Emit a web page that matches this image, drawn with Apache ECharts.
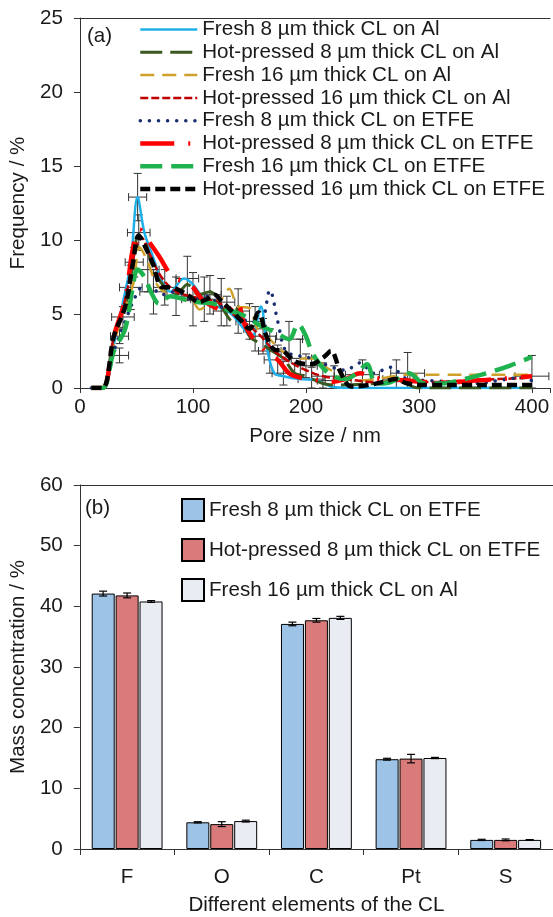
<!DOCTYPE html>
<html>
<head>
<meta charset="utf-8">
<title>CL pore size and composition</title>
<script src="https://cdn.jsdelivr.net/npm/echarts@6/dist/echarts.min.js"></script>
<style>
  html, body { margin: 0; padding: 0; background: #fff; }
  #main { width: 553px; height: 917px; }
</style>
</head>
<body>
<div id="main"></div>
<script>
// ---- (a) pore size distribution, [pore size nm, frequency %]
var namesA = [
  'Fresh 8 µm thick CL on Al',
  'Hot-pressed 8 µm thick CL on Al',
  'Fresh 16 µm thick CL on Al',
  'Hot-pressed 16 µm thick CL on Al',
  'Fresh 8 µm thick CL on ETFE',
  'Hot-pressed 8 µm thick CL on ETFE',
  'Fresh 16 µm thick CL on ETFE',
  'Hot-pressed 16 µm thick CL on ETFE'
];
var fresh8Al = [[10,0],[20,0],[30,3],[40,6.5],[45,8.5],[51,12.9],[57,10.5],[64,9],[72,7.3],[80,6.5],[92,7.4],[100,7],[110,6],[122,5.5],[134,5],[145,4],[152,3.4],[160,5.5],[166,2.5],[172,1.0],[180,0.8],[195,0.6],[210,0.5],[222,0.1],[240,0],[300,0],[350,0],[400,0]];
var hot8Al = [[10,0],[20,0],[30,3.5],[40,5.5],[46,8],[52,10.3],[58,9.8],[65,8],[75,6.8],[85,6.3],[95,7.0],[105,6.3],[115,6.5],[125,5.5],[135,4.5],[140,5.5],[150,3.5],[160,3.0],[170,2.5],[180,2],[190,1.0],[200,0.8],[215,0.3],[230,0.2],[260,0.3],[280,0.5],[300,0],[350,0],[400,0]];
var fresh16Al = [[10,0],[20,0],[30,3],[40,5.5],[47,7],[53,9.5],[60,8.5],[68,7],[78,6.3],[90,6],[100,5.8],[106,5.3],[115,5.8],[125,6],[132,6.7],[140,5.5],[150,5.4],[157,4],[165,3.5],[175,2.8],[190,2.0],[205,2.0],[220,1.3],[245,0.5],[270,0.7],[290,0.9],[320,0.9],[350,0.9],[380,0.9],[400,0.9]];
var hot16Al = [[10,0],[20,0],[30,3.5],[40,6],[48,9],[54,10.2],[62,9],[72,7.5],[85,6.5],[98,6.2],[110,6],[122,5.8],[135,5],[148,4.3],[160,3.5],[172,2.5],[185,1.8],[200,1.2],[215,0.8],[235,0.6],[260,0.4],[285,0.5],[310,0.4],[340,0.5],[370,0.6],[400,0.7]];
var fresh8Etfe = [[10,0],[20,0],[30,2.5],[40,4.5],[48,6],[55,6.8],[63,6.8],[72,6.3],[85,6.5],[100,6],[112,6.2],[125,5.5],[138,5],[150,4.5],[160,4.5],[168,6.6],[175,4.5],[182,2.5],[192,2.2],[205,2.0],[220,1.5],[235,1.2],[248,1.7],[260,1.0],[275,1.4],[290,0.6],[310,0.5],[330,0.4],[350,0.3],[370,0.5],[390,0.7],[400,0.5]];
var hot8Etfe = [[10,0],[20,0],[30,3.5],[40,6],[47,9.5],[53,10.7],[60,10],[70,8.9],[82,7.5],[92,7.2],[99,6.9],[108,6],[118,5.5],[130,5.2],[139,5.8],[145,4.4],[152,3.5],[160,2.8],[168,2.2],[175,1.9],[185,1.0],[195,0.7],[205,0.6],[220,0.4],[235,0.6],[248,1.0],[260,0.7],[275,0.6],[290,0.5],[310,0.4],[330,0.4],[350,0.5],[370,0.6],[385,0.7],[400,0.8]];
var fresh16Etfe = [[10,0],[20,0],[30,2.5],[40,4],[46,6.5],[51,8],[57,7.5],[64,6.3],[70,5.7],[80,6.2],[92,6],[105,5.8],[118,5.7],[130,5.3],[145,4.9],[160,4.2],[172,3.8],[185,3.3],[193,4.3],[200,3.5],[206,2.3],[220,1.0],[235,0.6],[245,1.0],[254,1.6],[262,0.3],[275,0.4],[291,1.0],[305,0.3],[320,0.3],[340,0.6],[360,1.0],[380,1.5],[400,2.1]];
var hot16Etfe = [[10,0],[20,0],[30,3.5],[40,5.5],[47,8.5],[52,10.3],[58,9.5],[64,8.5],[73,6.8],[80,6.8],[88,6.6],[97,6.2],[105,5.8],[112,6.0],[119,6.3],[126,5.8],[133,5.3],[142,4.6],[150,4.0],[158,5.1],[165,3.5],[172,2.6],[180,2.5],[190,1.8],[204,1.6],[216,2.1],[222,2.5],[231,1.0],[240,0.1],[255,0.2],[268,0.4],[279,0.6],[290,0.3],[310,0.2],[340,0.2],[370,0.2],[400,0.2]];
// error bars: [pore, freq, x error, y error]
var errA = [[35,3.5,8,0.5],[35,2.2,8,0.5],[38,4.8,10,0.7],[45,6.8,10,1.5],[51,12.9,8,1.6],[52,10.5,10,1.2],[48,8.5,8,1.0],[60,8.0,10,1.5],[65,6.5,12,1.5],[75,6.8,10,1.2],[85,6.2,10,1.3],[95,7.4,10,1.5],[100,6.0,10,1.8],[110,6.0,12,1.5],[115,6.3,10,1.3],[125,5.8,12,1.6],[130,5.2,12,1.0],[140,5.2,10,1.5],[150,4.5,12,1.2],[155,4.0,10,1.5],[162,3.5,12,1.2],[168,2.5,10,1.5],[175,1.9,12,1.0],[180,1.0,10,0.8],[185,3.3,12,1.2],[195,2.0,10,1.3],[200,1.5,10,0.8],[205,0.6,12,0.8],[215,0.8,10,0.9],[225,0.5,15,1.0],[250,0.9,15,1.0],[280,0.6,12,1.3],[290,1.0,15,1.4],[400,0.8,15,1.4]];

// ---- (b) mass concentration
var elements = ['F', 'O', 'C', 'Pt', 'S'];
var namesB = ['Fresh 8 µm thick CL on ETFE', 'Hot-pressed 8 µm thick CL on ETFE', 'Fresh 16 µm thick CL on Al'];
var fresh8EtfeMass = [42.1, 4.4, 37.1, 14.8, 1.5];
var hot8EtfeMass = [41.8, 4.1, 37.7, 14.9, 1.5];
var fresh16AlMass = [40.8, 4.6, 38.1, 15.0, 1.5];
var fresh8EtfeErr = [0.4, 0.1, 0.3, 0.15, 0.1];
var hot8EtfeErr = [0.4, 0.4, 0.3, 0.7, 0.15];
var fresh16AlErr = [0.15, 0.15, 0.25, 0.1, 0.05];

var FONT = 'Liberation Sans, Arial, sans-serif';
var FS = 20.6;
var chart = echarts.init(document.getElementById('main'));

var lineStyles = [
  { color: '#1fb0ea', width: 2.5, type: 'solid' },
  { color: '#3b5a1f', width: 3, type: [22, 8] },
  { color: '#cfa12a', width: 2.5, type: [14, 8] },
  { color: '#c00000', width: 2.5, type: [8, 3] },
  { color: '#1a2f72', width: 3.5, type: [0.1, 9], cap: 'round' },
  { color: '#ff0000', width: 4.5, type: [34, 14, 2, 14] },
  { color: '#1fb34f', width: 4.5, type: [22, 9] },
  { color: '#000000', width: 4.5, type: [10, 5] }
];
var dataA = [fresh8Al, hot8Al, fresh16Al, hot16Al, fresh8Etfe, hot8Etfe, fresh16Etfe, hot16Etfe];

var series = [];
series.push({
  type: 'custom',
  xAxisIndex: 0, yAxisIndex: 0,
  data: errA,
  encode: { x: 0, y: 1 },
  silent: true,
  z: 1,
  renderItem: function (params, api) {
    var x = api.value(0), y = api.value(1), dx = api.value(2), dy = api.value(3);
    var l = api.coord([x - dx, y]), r = api.coord([x + dx, y]);
    var t = api.coord([x, y + dy]), b = api.coord([x, Math.max(0, y - dy)]);
    var st = { stroke: '#333', lineWidth: 1 };
    var c = 4;
    return {
      type: 'group',
      children: [
        { type: 'line', shape: { x1: l[0], y1: l[1], x2: r[0], y2: r[1] }, style: st },
        { type: 'line', shape: { x1: l[0], y1: l[1] - c, x2: l[0], y2: l[1] + c }, style: st },
        { type: 'line', shape: { x1: r[0], y1: r[1] - c, x2: r[0], y2: r[1] + c }, style: st },
        { type: 'line', shape: { x1: t[0], y1: t[1], x2: b[0], y2: b[1] }, style: st },
        { type: 'line', shape: { x1: t[0] - c, y1: t[1], x2: t[0] + c, y2: t[1] }, style: st },
        { type: 'line', shape: { x1: b[0] - c, y1: b[1], x2: b[0] + c, y2: b[1] }, style: st }
      ]
    };
  }
});
for (var i = 0; i < namesA.length; i++) {
  series.push({
    name: namesA[i],
    type: 'line',
    xAxisIndex: 0, yAxisIndex: 0,
    data: dataA[i],
    smooth: 0.35,
    symbol: 'none',
    z: 2 + i,
    lineStyle: lineStyles[i],
    itemStyle: { color: lineStyles[i].color }
  });
}

var barColors = ['#9dc3e6', '#d97b7b', '#e9edf3'];
var massData = [fresh8EtfeMass, hot8EtfeMass, fresh16AlMass];
var massErr = [fresh8EtfeErr, hot8EtfeErr, fresh16AlErr];
// bar series names get a trailing space so they do not clash with the line series names
var barNames = namesB.map(function (n) { return n + ' '; });
for (var j = 0; j < namesB.length; j++) {
  series.push({
    name: barNames[j],
    type: 'bar',
    xAxisIndex: 1, yAxisIndex: 1,
    data: massData[j],
    barWidth: 23,
    barGap: '4%',
    itemStyle: { color: barColors[j], borderColor: '#000', borderWidth: 1 }
  });
}
var errB = [];
for (var s = 0; s < 3; s++) {
  for (var k = 0; k < elements.length; k++) {
    errB.push([k, massData[s][k], massErr[s][k], s]);
  }
}
series.push({
  type: 'custom',
  xAxisIndex: 1, yAxisIndex: 1,
  data: errB,
  encode: { x: 0, y: 1 },
  silent: true,
  z: 5,
  renderItem: function (params, api) {
    var cat = api.value(0), v = api.value(1), e = api.value(2), si = api.value(3);
    var xc = api.coord([cat, v])[0] + (si - 1) * 24;
    var hi = api.coord([cat, v + e])[1], lo = api.coord([cat, v - e])[1];
    var st = { stroke: '#000', lineWidth: 1.2 };
    return {
      type: 'group',
      children: [
        { type: 'line', shape: { x1: xc, y1: hi, x2: xc, y2: lo }, style: st },
        { type: 'line', shape: { x1: xc - 4, y1: hi, x2: xc + 4, y2: hi }, style: st },
        { type: 'line', shape: { x1: xc - 4, y1: lo, x2: xc + 4, y2: lo }, style: st }
      ]
    };
  }
});

var axisLine = { show: true, lineStyle: { color: '#333', width: 1 } };
var axisLabel = { color: '#1a1a1a', fontSize: FS, fontFamily: FONT };
var nameStyle = { color: '#1a1a1a', fontSize: FS, fontFamily: FONT };
var topBorder = function (g) {
  return {
    type: 'value', gridIndex: g, position: 'top', min: 0, max: 1,
    axisLine: axisLine, axisTick: { show: false }, axisLabel: { show: false }, splitLine: { show: false }
  };
};

var legendA = namesA.map(function (n, i) {
  return { name: n, lineStyle: lineStyles[i], itemStyle: { opacity: 0 } };
});

chart.setOption({
  animation: false,
  backgroundColor: '#fff',
  textStyle: { fontFamily: FONT },
  grid: [
    { left: 80, right: 0, top: 18, bottom: 529 },
    { left: 79, right: 0, top: 485, bottom: 64 }
  ],
  legend: [
    {
      data: legendA,
      orient: 'vertical', left: 138, top: 19, padding: 0,
      itemWidth: 57, itemHeight: 14, itemGap: 1.8,
      itemStyle: { opacity: 0 },
      textStyle: { color: '#1a1a1a', fontSize: FS, fontFamily: FONT, lineHeight: 20 },
      selectedMode: false
    },
    {
      data: barNames,
      orient: 'vertical', left: 181, top: 498, padding: 0,
      itemWidth: 22, itemHeight: 22, itemGap: 16,
      icon: 'rect',
      textStyle: { color: '#1a1a1a', fontSize: FS, fontFamily: FONT },
      selectedMode: false
    }
  ],
  xAxis: [
    {
      type: 'value', gridIndex: 0, min: 0, max: 416, interval: 100,
      splitLine: { show: false },
      axisLine: axisLine,
      axisTick: { show: true, length: 5, lineStyle: { color: '#333' } },
      axisLabel: Object.assign({ margin: 9, formatter: function (v) { return v % 100 === 0 ? v : ''; } }, axisLabel),
      name: 'Pore size / nm', nameLocation: 'middle', nameGap: 38, nameTextStyle: nameStyle
    },
    {
      type: 'category', gridIndex: 1, data: elements,
      axisLine: axisLine,
      axisTick: { show: true, length: 6, lineStyle: { color: '#333' } },
      axisLabel: Object.assign({ margin: 18 }, axisLabel),
      name: 'Different elements of the CL', nameLocation: 'middle', nameGap: 46, nameTextStyle: nameStyle
    },
    topBorder(0),
    topBorder(1)
  ],
  yAxis: [
    {
      type: 'value', gridIndex: 0, min: 0, max: 25, interval: 5,
      splitLine: { show: false },
      axisLine: axisLine,
      axisTick: { show: true, length: 6, lineStyle: { color: '#333' } },
      axisLabel: Object.assign({ margin: 17 }, axisLabel),
      name: 'Frequency / %', nameLocation: 'middle', nameGap: 47, nameTextStyle: nameStyle
    },
    {
      type: 'value', gridIndex: 1, min: 0, max: 60, interval: 10,
      splitLine: { show: false },
      axisLine: axisLine,
      axisTick: { show: true, length: 6, lineStyle: { color: '#333' } },
      axisLabel: Object.assign({ margin: 17 }, axisLabel),
      name: 'Mass concentration / %', nameLocation: 'middle', nameGap: 47, nameTextStyle: nameStyle
    }
  ],
  graphic: [
    { type: 'text', left: 87, top: 26, style: { text: '(a)', fontSize: FS, fontFamily: FONT, fill: '#1a1a1a' } },
    { type: 'text', left: 85, top: 498, style: { text: '(b)', fontSize: FS, fontFamily: FONT, fill: '#1a1a1a' } }
  ],
  series: series
});
</script>
</body>
</html>
